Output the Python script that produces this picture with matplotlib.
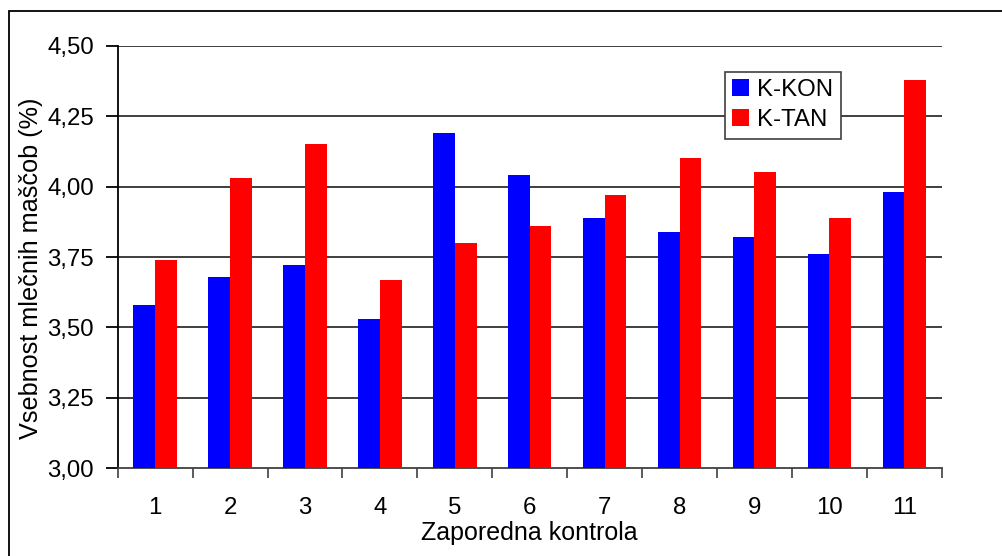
import matplotlib
matplotlib.use("Agg")
import matplotlib.pyplot as plt
import numpy as np
from matplotlib.patches import Rectangle

categories = ["1", "2", "3", "4", "5", "6", "7", "8", "9", "10", "11"]
k_kon = [3.58, 3.68, 3.72, 3.53, 4.19, 4.04, 3.89, 3.84, 3.82, 3.76, 3.98]
k_tan = [3.74, 4.03, 4.15, 3.67, 3.80, 3.86, 3.97, 4.10, 4.05, 3.89, 4.38]
series_names = ["K-KON", "K-TAN"]
yticks = [3.00, 3.25, 3.50, 3.75, 4.00, 4.25, 4.50]
ytick_labels = ["3,00", "3,25", "3,50", "3,75", "4,00", "4,25", "4,50"]

plt.rcParams['font.family'] = ['Liberation Sans', 'DejaVu Sans']
FS = 17.3

fig = plt.figure(figsize=(10.03, 5.56), dpi=100)
fig.patch.set_facecolor('white')
# outer chart border (left and top visible)
fig.patches.append(Rectangle((9/1003, -0.2), 1.2, 1.2 - 11/556, transform=fig.transFigure,
                             fill=False, edgecolor='#000000', linewidth=1.3, zorder=0))

ax = fig.add_axes([117.7/1003, 1 - 468.3/556, 824/1003, (468.3 - 45.7)/556])
x = np.arange(len(categories))
w = 0.29
ax.bar(x - w/2, k_kon, width=w, bottom=0, color='#0000FF', label=series_names[0], zorder=3)
ax.bar(x + w/2, k_tan, width=w, bottom=0, color='#FF0000', label=series_names[1], zorder=3)

ax.set_ylim(3.0, 4.5)
ax.set_xlim(-0.5, len(categories) - 0.5)
ax.set_yticks(yticks)
ax.set_yticklabels(ytick_labels, fontsize=FS)
ax.set_xticks(x)
ax.set_xticklabels(categories, fontsize=FS)
ax.set_xticks(np.arange(len(categories) + 1) - 0.5, minor=True)
ax.tick_params(axis='x', which='major', length=0, pad=21)
ax.tick_params(axis='x', which='minor', length=7, width=1.2, color='#404040', direction='out')
ax.tick_params(axis='y', which='major', length=9, width=1.3, color='#000000', direction='out', pad=8)

for y in yticks[1:]:
    ax.axhline(y, color='#303030', linewidth=1.3, zorder=1)

ax.spines['top'].set_visible(False)
ax.spines['right'].set_visible(False)
ax.spines['left'].set_color('#000000')
ax.spines['left'].set_linewidth(1.3)
ax.spines['bottom'].set_color('#404040')
ax.spines['bottom'].set_linewidth(1.3)

ax.set_xlabel("Zaporedna kontrola", fontsize=FS + 0.7, labelpad=1)
fig.text(31/1003, 1 - 268/556, "Vsebnost mlečnih maščob (%)", rotation=90,
         fontsize=FS + 0.9, ha='center', va='center')

leg = ax.legend(loc='upper left', bbox_to_anchor=((725 - 117.7)/824, (468.3 - 71.7)/422.6),
                fontsize=FS, frameon=True, fancybox=False, handlelength=0.7, handleheight=0.7,
                handletextpad=0.35, borderpad=0.3, labelspacing=0.35, borderaxespad=0)
leg.get_frame().set_edgecolor('#404040')
leg.get_frame().set_linewidth(1.2)
leg.get_frame().set_facecolor('white')
leg.get_frame().set_alpha(1)
leg.set_zorder(5)

fig.savefig("out.png", dpi=100, facecolor='white')
